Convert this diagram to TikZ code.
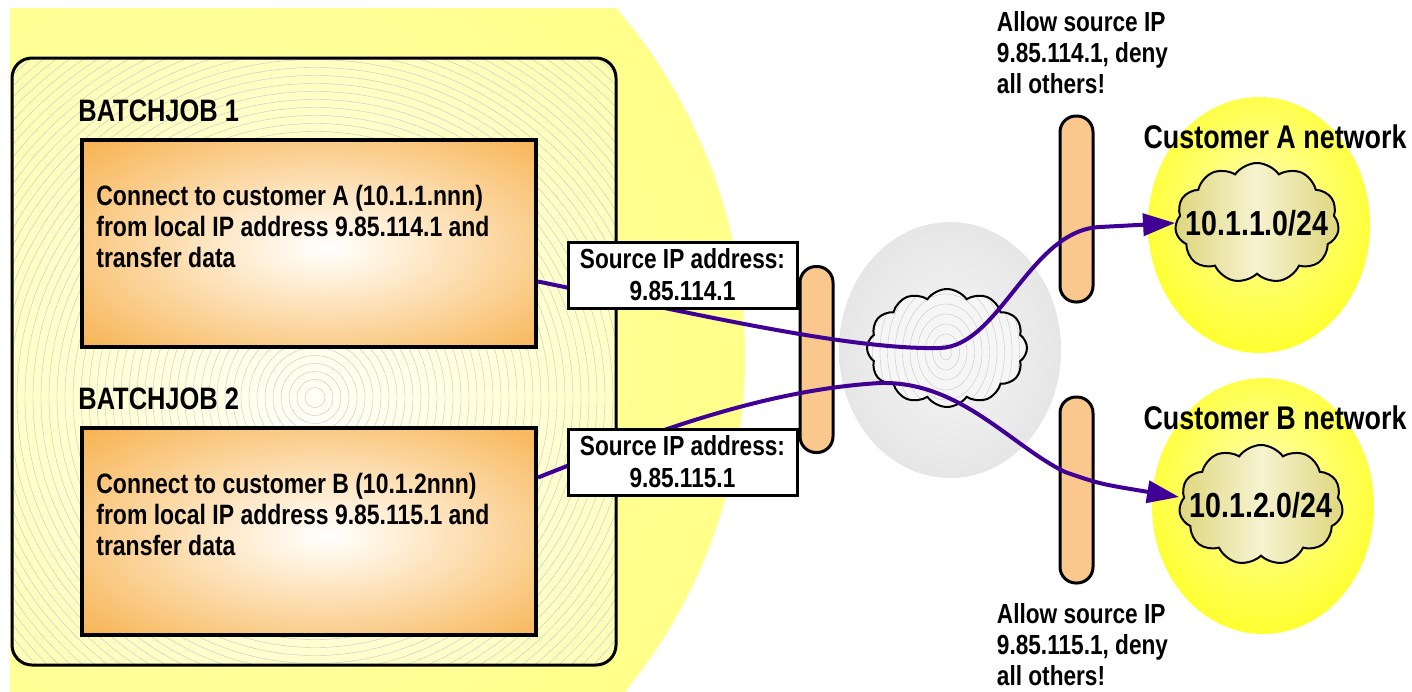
\documentclass[tikz,border=0pt]{standalone}
\usepackage{fontspec}
\setmainfont{Liberation Sans}[FakeStretch=0.82]
\usetikzlibrary{shapes.geometric, shapes.symbols, arrows.meta, positioning, backgrounds}

\definecolor{linkpurple}{RGB}{64,0,150}
\definecolor{jobedge}{RGB}{246,170,62}
\definecolor{joblight}{RGB}{255,244,226}
\definecolor{wallfill}{RGB}{250,200,140}
\definecolor{sunedge}{RGB}{255,255,100}
\definecolor{suncenter}{RGB}{255,255,175}
\definecolor{panelcenter}{RGB}{255,255,248}
\definecolor{paneledge}{RGB}{255,255,178}
\definecolor{hazegray}{RGB}{218,218,218}
\definecolor{hazewhite}{RGB}{246,246,246}
\definecolor{netyellow}{RGB}{255,255,0}
\definecolor{netlight}{RGB}{255,255,175}
\definecolor{siteolive}{RGB}{222,214,125}
\definecolor{sitelight}{RGB}{246,243,208}

\pgfdeclareradialshading{sunglow}{\pgfpoint{0bp}{0bp}}{color(0bp)=(suncenter); color(50bp)=(sunedge)}
\pgfdeclareradialshading{panelglow}{\pgfpoint{0bp}{-6bp}}{color(0bp)=(panelcenter); color(35bp)=(paneledge); color(50bp)=(paneledge)}
\pgfdeclareradialshading{jobglow}{\pgfpoint{2bp}{-1bp}}{color(0bp)=(white); color(6bp)=(joblight); color(40bp)=(jobedge); color(70bp)=(jobedge)}
\pgfdeclareradialshading{netglow}{\pgfpoint{0bp}{6bp}}{color(0bp)=(netlight); color(38bp)=(netyellow); color(50bp)=(netyellow)}
\pgfdeclareradialshading{hazeglow}{\pgfpoint{0bp}{0bp}}{color(0bp)=(hazewhite); color(44bp)=(hazegray); color(50bp)=(hazegray)}

\begin{document}
\begin{tikzpicture}[
    x=0.5pt, y=-0.5pt,
    panel/.style={rectangle, rounded corners=10pt, draw, line width=1.5pt, shading=panelglow, minimum width=302pt, minimum height=303.5pt},
    ring/.style={gray!45, line width=0.2pt},
    jobbox/.style={rectangle, draw, line width=2pt, shading=jobglow, minimum width=227pt, minimum height=103.5pt},
    jobtitle/.style={inner sep=0pt, font=\bfseries\fontsize{15.5}{15.5}\selectfont},
    jobtext/.style={inner sep=0pt, align=left, font=\bfseries\fontsize{14}{15.5}\selectfont},
    srcbox/.style={rectangle, draw, line width=1.5pt, fill=white, minimum width=114.5pt, minimum height=33pt, inner sep=0pt, align=center, font=\bfseries\fontsize{13.8}{16}\selectfont},
    wall/.style={rectangle, rounded corners=8pt, draw, line width=1.5pt, fill=wallfill, minimum width=16.5pt, minimum height=93pt},
    rule/.style={inner sep=0pt, align=left, font=\bfseries\fontsize{13.8}{15.5}\selectfont},
    haze/.style={ellipse, shading=hazeglow, minimum width=111pt, minimum height=128pt},
    core/.style={cloud, cloud puffs=12, cloud puff arc=110, cloud ignores aspect, draw, line width=1pt, fill=hazewhite, minimum width=80pt, minimum height=59pt, inner sep=0pt},
    net/.style={ellipse, shading=netglow, minimum width=111pt, minimum height=128pt},
    site/.style={cloud, cloud puffs=11, cloud puff arc=110, cloud ignores aspect, draw, line width=1pt, left color=siteolive, right color=siteolive, middle color=sitelight, minimum width=82pt, minimum height=60pt, inner sep=0pt},
    sitetext/.style={inner sep=0pt, font=\bfseries\fontsize{17.4}{17.4}\selectfont},
    netlabel/.style={inner sep=0pt, font=\bfseries\fontsize{16.4}{16.4}\selectfont},
    link/.style={draw=linkpurple, line width=2pt, -{Triangle[length=16pt, width=11pt]}},
]
    \useasboundingbox (0,0) rectangle (1412,691);

    % Host background
    \begin{scope}[on background layer]
        \begin{scope}
            \clip (10,8) rectangle (1412,691);
            \shade[shading=sunglow] (213,355) circle[radius=532];
        \end{scope}
        \node[panel, path picture={
            \foreach \r in {5,9,...,300}
                \draw[ring] ([shift={(0.5pt,-18pt)}]path picture bounding box.center) circle[radius=\r pt];
        }] (host) at (314,361.5) {};
    \end{scope}

    % Batch jobs
    \node[jobbox] (job1) at (309,243.5) {};
    \node[jobtitle, above right=8pt and -1pt of job1.north west] (title1) {BATCHJOB 1};
    \node[jobtext, below right=23.5pt and 8pt of job1.north west] (text1) {Connect to customer A (10.1.1.nnn)\\from local IP address 9.85.114.1 and\\transfer data};

    \node[jobbox] (job2) at (309,531.5) {};
    \node[jobtitle, above right=8pt and -1pt of job2.north west] (title2) {BATCHJOB 2};
    \node[jobtext, below right=23.5pt and 8pt of job2.north west] (text2) {Connect to customer B (10.1.2nnn)\\from local IP address 9.85.115.1 and\\transfer data};

    % Internet
    \node[haze] (inet) at (950,350) {};
    \node[core, path picture={
        \foreach \r in {4,9,...,70}
            \draw[ring] ([shift={(-0.5pt,-2pt)}]path picture bounding box.center) ellipse[x radius=0.75*\r pt, y radius=\r pt];
    }] (core) at (947,348) {};

    % Customer networks
    \node[net] (netA) at (1259,225) {};
    \node[site, label={[sitetext]center:10.1.1.0/24}] (siteA) at (1257,223) {};
    \node[netlabel] (labelA) at (1275,137) {Customer A network};

    \node[net] (netB) at (1263,506) {};
    \node[site, label={[sitetext]center:10.1.2.0/24}] (siteB) at (1261,505) {};
    \node[netlabel] (labelB) at (1275,418) {Customer B network};

    % Firewalls
    \node[wall] (wallL) at (816.5,359.5) {};
    \node[wall] (wallA) at (1076.5,209) {};
    \node[wall] (wallB) at (1076.5,490) {};
    \node[rule, above=10pt of wallA, xshift=3pt] (ruleA) {Allow source IP\\9.85.114.1, deny\\all others!};
    \node[rule, below=9.5pt of wallB, xshift=3pt] (ruleB) {Allow source IP\\9.85.115.1, deny\\all others!};

    % Connections
    \coordinate (dipA) at (940,348);
    \coordinate (riseA) at (1100,227);
    \coordinate (humpB) at (880,383);
    \coordinate (dropB) at (1065,472);
    \draw[link] ([yshift=-19pt]job1.east) .. controls (700,315) and (850,350) .. (dipA)
        .. controls (1000,346) and (1030,230) .. (riseA) -- (siteA.west);
    \draw[link] ([yshift=27pt]job2.east) .. controls (640,437) and (760,390) .. (humpB)
        .. controls (960,381) and (1010,445) .. (dropB) .. controls (1100,484) .. ([yshift=4pt]siteB.west);

    % Source addresses
    \node[srcbox] (srcA) at (682.5,275) {Source IP address:\\9.85.114.1};
    \node[srcbox] (srcB) at (682.5,462) {Source IP address:\\9.85.115.1};
\end{tikzpicture}
\end{document}
